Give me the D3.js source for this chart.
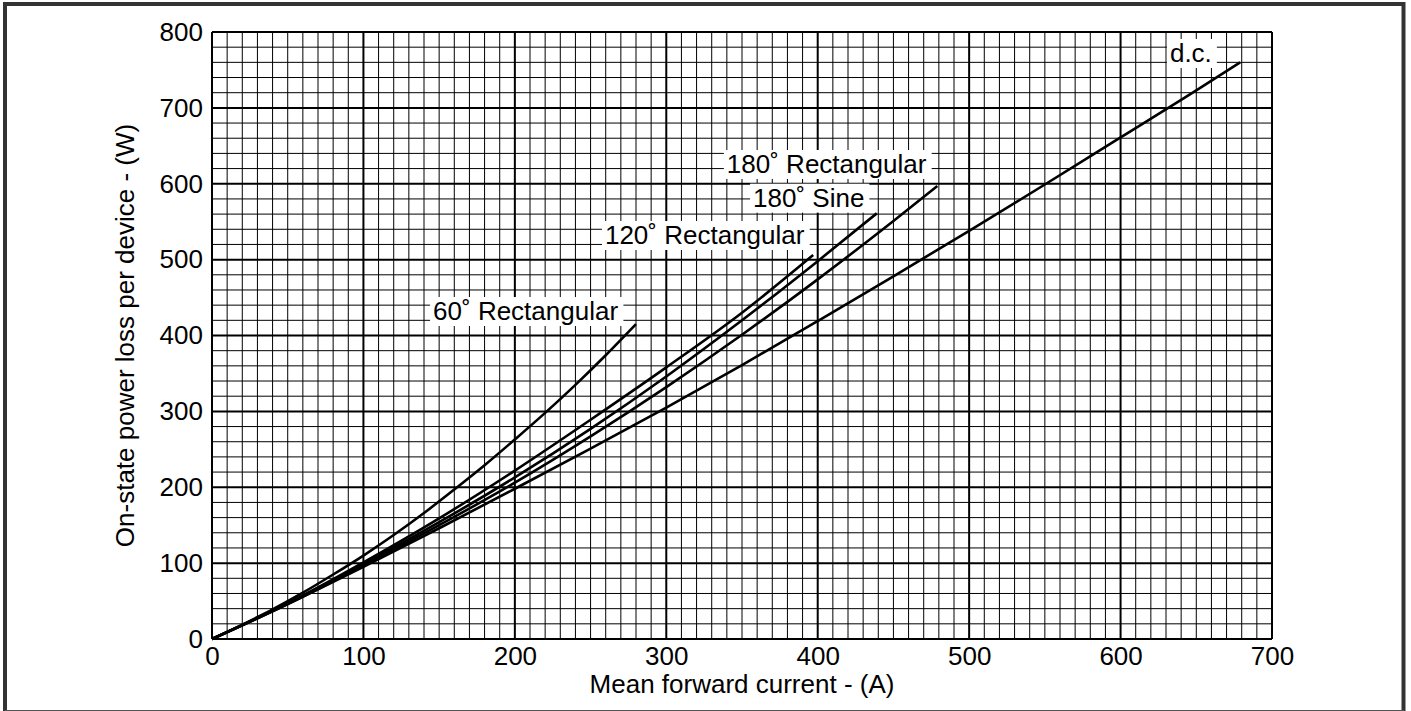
<!DOCTYPE html>
<html>
<head>
<meta charset="utf-8">
<script src="https://cdn.jsdelivr.net/npm/d3@7"></script>
<style>
  body { margin: 0; background: #fff; }
  svg { display: block; font-family: "Liberation Sans", Arial, sans-serif; }
</style>
</head>
<body>
<svg id="chart" width="1411" height="711"></svg>
<script>
// values (A -> W)
var current60 = [0, 20, 40, 60, 80, 100, 120, 140, 160, 180, 200, 220, 240, 260, 280];
var loss60 = [0, 19, 39, 61, 85, 110, 137, 166, 197, 229, 263, 298, 335, 374, 415];

var current120 = [0, 50, 100, 150, 200, 250, 300, 350, 397];
var loss120 = [0, 47, 101, 159, 222, 289, 358, 430, 506];

var currentSine = [0, 50, 100, 150, 200, 250, 300, 350, 400, 439];
var lossSine = [0, 47, 99, 154, 213, 277, 346, 420, 498, 561];

var currentRect180 = [0, 50, 100, 150, 200, 250, 300, 350, 400, 450, 479];
var lossRect180 = [0, 46, 97, 150, 206, 267, 332, 401, 474, 551, 597];

var currentDc = [0, 50, 100, 150, 200, 250, 300, 350, 400, 450, 500, 550, 600, 650, 679];
var lossDc = [0, 46, 95, 146, 198, 251, 305, 361, 419, 478, 538, 599, 661, 723, 760];

var labelNames = ["60\u02DA Rectangular", "120\u02DA Rectangular", "180\u02DA Sine", "180\u02DA Rectangular", "d.c."];
var labelCurrent = [146, 259.5, 357.3, 340, 632.6];   // left edge of text, in A
var labelLoss = [420.4, 520.6, 569.8, 614.2, 760.5];  // baseline, in W

var xTicks = [0, 100, 200, 300, 400, 500, 600, 700];
var yTicks = [0, 100, 200, 300, 400, 500, 600, 700, 800];

var svg = d3.select("#chart");

var x = d3.scaleLinear().domain([0, 700]).range([212, 1272]);
var y = d3.scaleLinear().domain([0, 800]).range([639, 32]);

// outer frame (bottom is cut off in the original)
svg.append("rect")
  .attr("x", 5).attr("y", 4)
  .attr("width", 1398.5).attr("height", 760)
  .attr("fill", "none").attr("stroke", "#333").attr("stroke-width", 4);
svg.append("line")
  .attr("x1", 5).attr("x2", 1404).attr("y1", 710.5).attr("y2", 710.5)
  .attr("stroke", "#555").attr("stroke-width", 1);

// grid: every 10 A, every 20 W; heavier on the hundreds
var grid = svg.append("g");
d3.range(0, 701, 10).forEach(function(v) {
  grid.append("line")
    .attr("x1", x(v)).attr("x2", x(v)).attr("y1", y(0)).attr("y2", y(800))
    .attr("stroke", "#000").attr("stroke-width", v % 100 == 0 ? 2 : 1);
});
d3.range(0, 801, 20).forEach(function(v) {
  grid.append("line")
    .attr("x1", x(0)).attr("x2", x(700)).attr("y1", y(v)).attr("y2", y(v))
    .attr("stroke", "#000").attr("stroke-width", v % 100 == 0 ? 2 : 1);
});

// tick labels via axes, domain + tick lines hidden
var xAxis = svg.append("g")
  .attr("transform", "translate(0," + y(0) + ")")
  .call(d3.axisBottom(x).tickValues(xTicks).tickSize(0).tickPadding(8));
var yAxis = svg.append("g")
  .attr("transform", "translate(" + x(0) + ",0)")
  .call(d3.axisLeft(y).tickValues(yTicks).tickSize(0).tickPadding(9));
[xAxis, yAxis].forEach(function(ax) {
  ax.select(".domain").remove();
  ax.selectAll("text")
    .attr("font-size", 26).attr("fill", "#000")
    .attr("font-family", "'Liberation Sans', Arial, sans-serif");
});
xAxis.selectAll("text").attr("dy", "0.71em");

svg.append("text")
  .attr("x", (x(0) + x(700)) / 2).attr("y", 693)
  .attr("text-anchor", "middle").attr("font-size", 26)
  .text("Mean forward current - (A)");
svg.append("text")
  .attr("transform", "translate(134," + ((y(0) + y(800)) / 2) + ") rotate(-90)")
  .attr("text-anchor", "middle").attr("font-size", 26)
  .text("On-state power loss per device - (W)");

// labels with white boxes knocking out the grid
var labels = svg.append("g");
labelNames.forEach(function(name, i) {
  var g = labels.append("g");
  var box = g.append("rect").attr("fill", "#fff");
  var t = g.append("text")
    .attr("x", x(labelCurrent[i])).attr("y", y(labelLoss[i]))
    .attr("font-size", 26).attr("fill", "#000")
    .text(name);
  var bb = t.node().getBBox();
  box.attr("x", bb.x - 3).attr("y", y(labelLoss[i]) - 23)
    .attr("width", bb.width + 8).attr("height", 29);
});

var line = d3.line()
  .x(function(d) { return x(d[0]); })
  .y(function(d) { return y(d[1]); })
  .curve(d3.curveMonotoneX);

var series = [
  d3.zip(current60, loss60),
  d3.zip(current120, loss120),
  d3.zip(currentSine, lossSine),
  d3.zip(currentRect180, lossRect180),
  d3.zip(currentDc, lossDc)
];

svg.append("g").selectAll("path")
  .data(series)
  .enter()
  .append("path")
  .attr("d", line)
  .attr("fill", "none")
  .attr("stroke", "#000")
  .attr("stroke-width", 2.6)
  .attr("stroke-linejoin", "round");
</script>
</body>
</html>
